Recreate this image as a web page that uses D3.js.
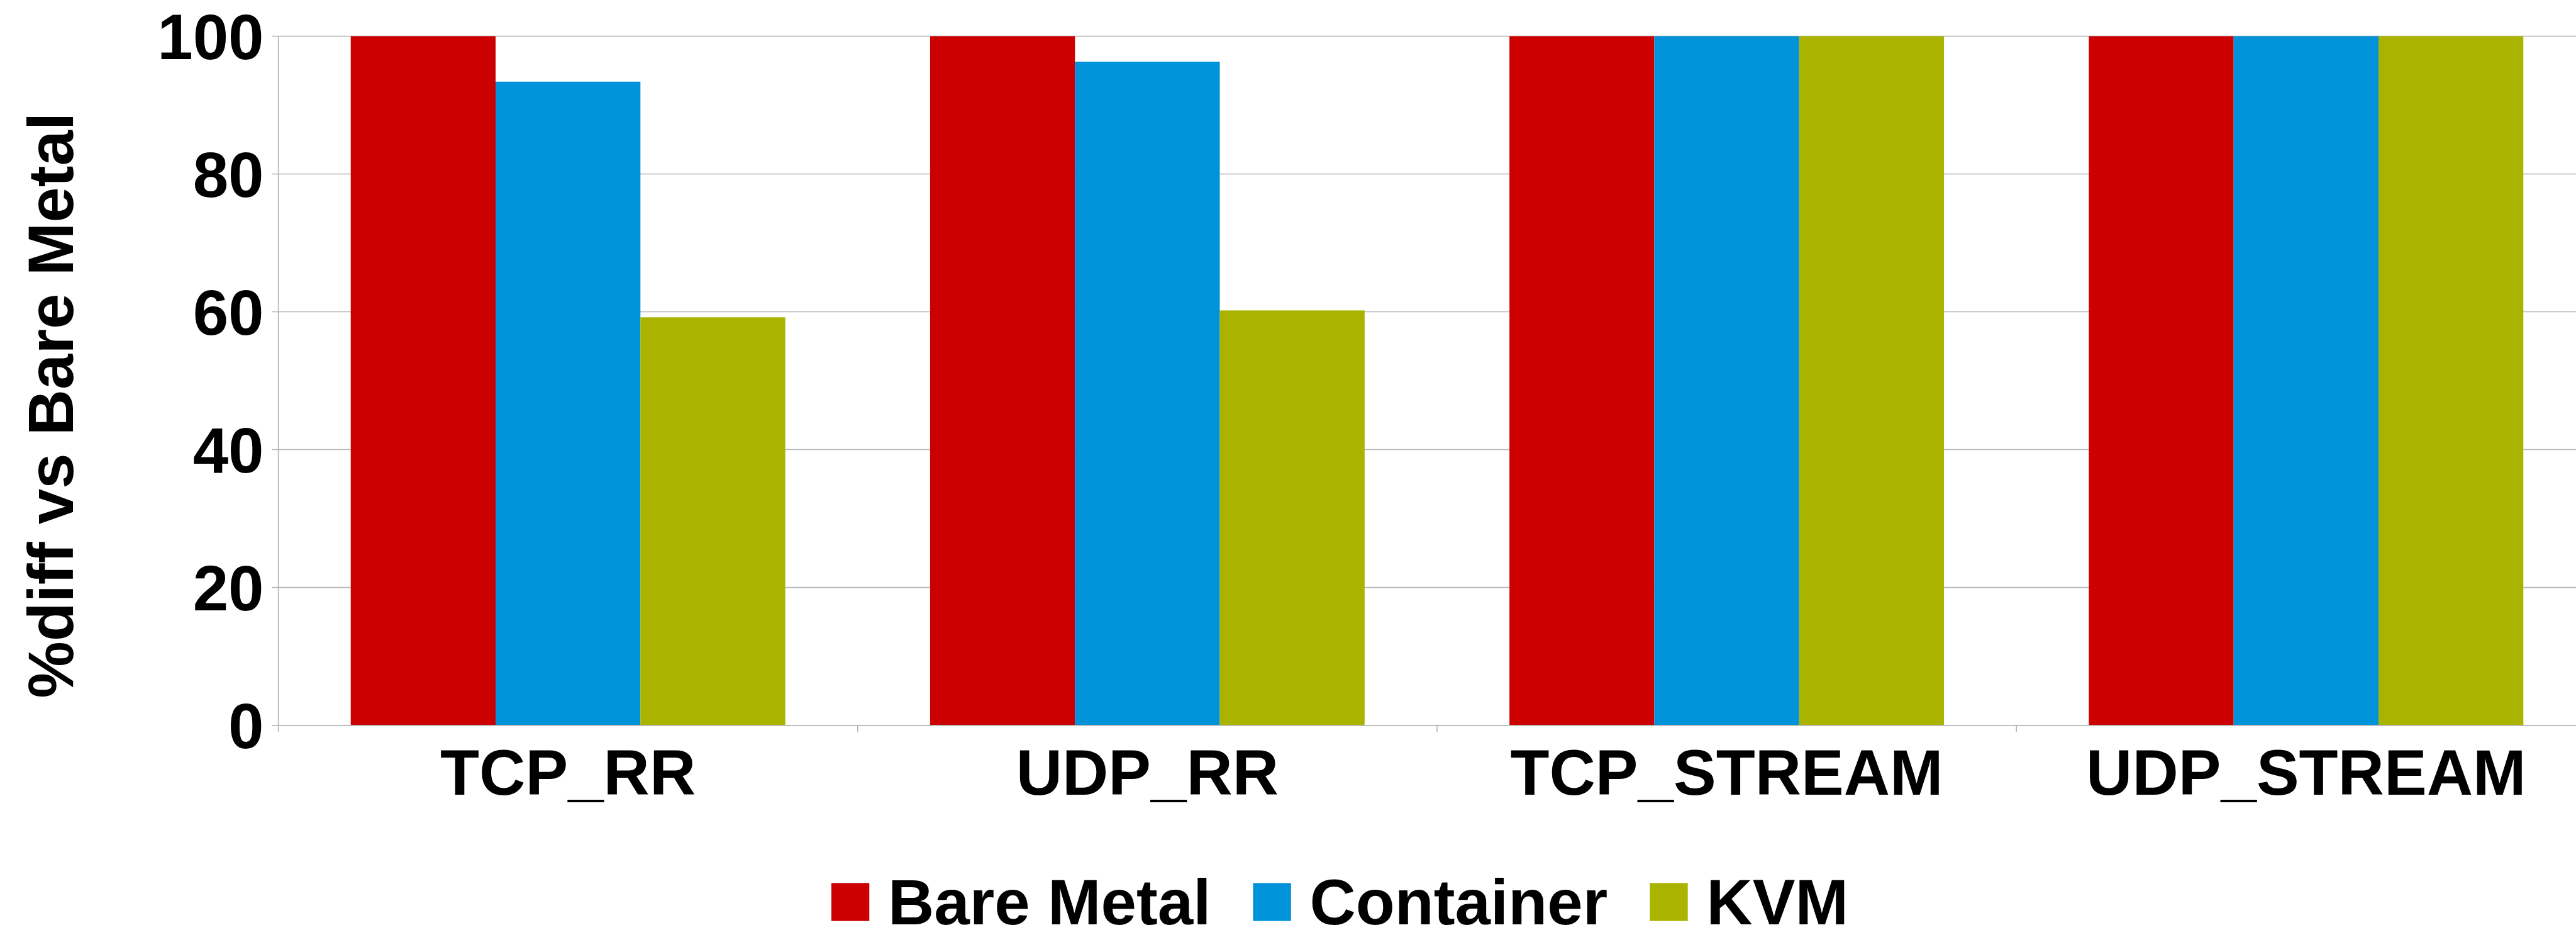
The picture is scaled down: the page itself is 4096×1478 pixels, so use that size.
<!DOCTYPE html>
<html>
<head>
<meta charset="utf-8">
<script src="https://cdn.jsdelivr.net/npm/d3@7/dist/d3.min.js"></script>
<style>
  html, body { margin: 0; padding: 0; background: #ffffff; overflow: hidden; }
  svg { display: block; }
  text { font-family: "Liberation Sans", Arial, sans-serif; font-weight: bold; fill: #000000; }
</style>
</head>
<body>
<svg id="chart"></svg>
<script>
// Network benchmark results, relative to bare metal (%)
const categories = ["TCP_RR", "UDP_RR", "TCP_STREAM", "UDP_STREAM"];
const seriesNames = ["Bare Metal", "Container", "KVM"];
const bareMetal = [100, 100, 100, 100];
const container = [93.4, 96.3, 100, 100];
const kvm = [59.2, 60.2, 100, 100];
const yTicks = [0, 20, 40, 60, 80, 100];
const colors = ["#cc0000", "#0093d9", "#aab400"];
const yTitle = "%diff vs Bare Metal";

const seriesValues = [bareMetal, container, kvm];

// Everything is laid out in a 4276 x 1543 design space, then scaled to the window
const W = 4096, H = 1478;
const k = W / 4276;
const FONT = 106;

const svg = d3.select("#chart").attr("width", W).attr("height", H);
const g = svg.append("g").attr("transform", `scale(${k})`);

const plot = { left: 462, top: 60, bottom: 1203.3, right: 462 + 4 * 961.7 };

const x0 = d3.scaleBand().domain(categories).range([plot.left, plot.right]).paddingInner(0).paddingOuter(0);
const x1 = d3.scaleBand().domain(seriesNames).range([0, x0.bandwidth()]).paddingInner(0).paddingOuter(0.5);
const y = d3.scaleLinear().domain([0, 100]).range([plot.bottom, plot.top]);

const gridColor = "#b3b3b3";

// horizontal grid lines with short outward ticks
g.append("g").selectAll("line").data(yTicks).join("line")
  .attr("x1", plot.left - 11).attr("x2", 4276 + 10)
  .attr("y1", d => y(d)).attr("y2", d => y(d))
  .attr("stroke", gridColor).attr("stroke-width", 1.6);

// bars
const groups = g.append("g").selectAll("g").data(categories).join("g")
  .attr("transform", c => `translate(${x0(c)},0)`);
groups.selectAll("rect")
  .data((c, ci) => seriesNames.map((s, si) => ({ s, si, v: seriesValues[si][ci] })))
  .join("rect")
  .attr("x", d => x1(d.s))
  .attr("width", x1.bandwidth())
  .attr("y", d => y(d.v))
  .attr("height", d => y(0) - y(d.v))
  .attr("fill", d => colors[d.si]);

// y axis line
g.append("line")
  .attr("x1", plot.left).attr("x2", plot.left)
  .attr("y1", plot.top).attr("y2", plot.bottom)
  .attr("stroke", gridColor).attr("stroke-width", 1.6);

// x axis baseline
g.append("line")
  .attr("x1", plot.left - 11).attr("x2", 4286)
  .attr("y1", plot.bottom).attr("y2", plot.bottom)
  .attr("stroke", gridColor).attr("stroke-width", 1.6);

// category boundary ticks
const boundaries = categories.map(c => x0(c)).concat([plot.right]);
g.append("g").selectAll("line").data(boundaries).join("line")
  .attr("x1", d => d).attr("x2", d => d)
  .attr("y1", plot.bottom).attr("y2", plot.bottom + 11)
  .attr("stroke", gridColor).attr("stroke-width", 1.6);

// y tick labels
g.append("g").selectAll("text").data(yTicks).join("text")
  .attr("x", 438).attr("y", d => y(d) + 38)
  .attr("text-anchor", "end")
  .attr("font-size", FONT)
  .text(d => d);

// category labels
g.append("g").selectAll("text").data(categories).join("text")
  .attr("x", c => x0(c) + x0.bandwidth() / 2)
  .attr("y", 1319)
  .attr("text-anchor", "middle")
  .attr("font-size", FONT)
  .text(c => c);

// y axis title
g.append("text")
  .attr("transform", "translate(121,672.5) rotate(-90)")
  .attr("text-anchor", "middle")
  .attr("font-size", FONT)
  .text(yTitle);

// legend
const legend = g.append("g");
let lx = 1380;
const sq = 63, sqY = 1465, textY = 1533.5;
seriesNames.forEach((name, i) => {
  legend.append("rect")
    .attr("x", lx).attr("y", sqY)
    .attr("width", sq).attr("height", sq)
    .attr("fill", colors[i]);
  const t = legend.append("text")
    .attr("x", lx + sq + 31).attr("y", textY)
    .attr("font-size", FONT)
    .text(name);
  lx += sq + 31 + t.node().getComputedTextLength() + 70;
});
</script>
</body>
</html>
